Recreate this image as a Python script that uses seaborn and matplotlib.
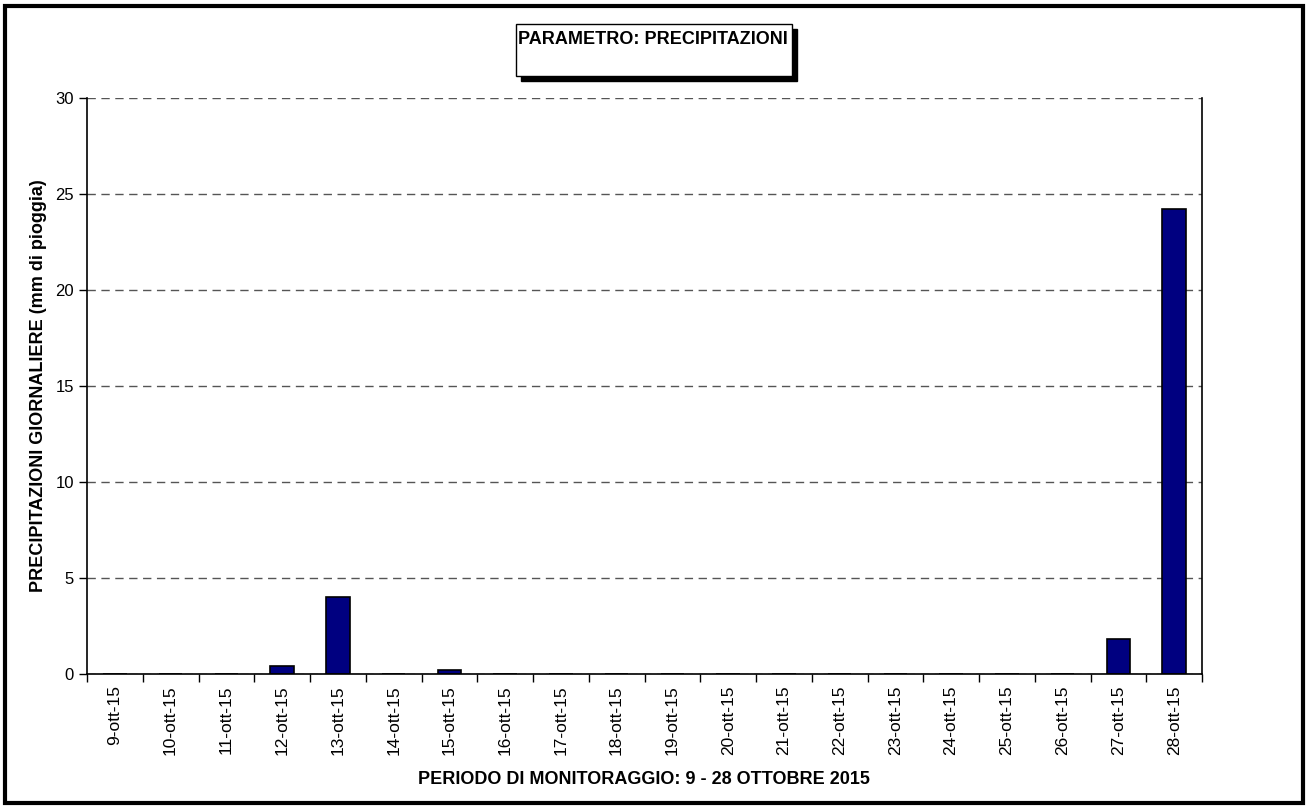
import matplotlib
matplotlib.use("Agg")
import matplotlib.pyplot as plt
import matplotlib.patches as patches
import seaborn as sns
import pandas as pd

giorni = ['9-ott-15', '10-ott-15', '11-ott-15', '12-ott-15', '13-ott-15', '14-ott-15',
          '15-ott-15', '16-ott-15', '17-ott-15', '18-ott-15', '19-ott-15', '20-ott-15',
          '21-ott-15', '22-ott-15', '23-ott-15', '24-ott-15', '25-ott-15', '26-ott-15',
          '27-ott-15', '28-ott-15']
pioggia = [0, 0, 0, 0.4, 4.0, 0, 0.2, 0, 0, 0, 0, 0, 0, 0, 0, 0, 0, 0, 1.8, 24.2]

sns.set_theme(style='white', rc={'text.color': 'black', 'xtick.color': 'black',
                                 'ytick.color': 'black', 'axes.labelcolor': 'black'})
plt.rcParams['font.family'] = ['Liberation Sans', 'DejaVu Sans']

df = pd.DataFrame({'giorno': giorni, 'mm': pioggia})

fig = plt.figure(figsize=(13.08, 8.08), dpi=100)
ax = fig.add_axes([87/1308, 1 - 674/808, (1202-87)/1308, (674-98)/808])

sns.barplot(data=df, x='giorno', y='mm', order=giorni, color='#000080',
            edgecolor='black', linewidth=1.2, width=0.42, saturation=1, ax=ax)

ax.set_ylim(0, 30)
ax.set_xlim(-0.5, len(giorni) - 0.5)
ax.set_yticks([0, 5, 10, 15, 20, 25, 30])
ax.yaxis.grid(True, linestyle=(0, (6, 4)), color='#555555', linewidth=1)
ax.set_axisbelow(True)

# tick marks between categories, labels centred on the bars
ax.set_xticks([i - 0.5 for i in range(len(giorni) + 1)], minor=False)
ax.set_xticklabels([])
ax.set_xticks(range(len(giorni)), minor=True)
ax.set_xticklabels(giorni, minor=True, rotation=90)
ax.tick_params(axis='x', which='major', direction='out', length=6, width=1, color='black', bottom=True)
ax.tick_params(axis='x', which='minor', length=0, pad=8, labelsize=12.5)
ax.tick_params(axis='y', direction='out', length=6, width=1, color='black', left=True, labelsize=12)

for s in ['left', 'bottom', 'right']:
    ax.spines[s].set_visible(True)
    ax.spines[s].set_color('black')
    ax.spines[s].set_linewidth(1.2)
ax.spines['top'].set_visible(False)

ax.set_xlabel('')
ax.set_ylabel('PRECIPITAZIONI GIORNALIERE (mm di pioggia)', fontsize=13, fontweight='bold', labelpad=6)
fig.text(644/1308, 1 - 780/808, 'PERIODO DI MONITORAGGIO: 9 - 28 OTTOBRE 2015',
         ha='center', va='center', fontsize=13, fontweight='bold')

# title box with shadow
bx0, by0, bw, bh = 516/1308, 1 - 76/808, (792-516)/1308, (76-24)/808
fig.patches.append(patches.Rectangle((bx0 + 5/1308, by0 - 5/808), bw, bh, transform=fig.transFigure,
                                     facecolor='black', edgecolor='black', zorder=1))
fig.patches.append(patches.Rectangle((bx0, by0), bw, bh, transform=fig.transFigure,
                                     facecolor='white', edgecolor='black', linewidth=1, zorder=2))
fig.text(bx0 + 2/1308, 1 - 39/808, 'PARAMETRO: PRECIPITAZIONI', ha='left', va='center',
         fontsize=13, fontweight='bold', zorder=3)

# outer frame
fig.patches.append(patches.Rectangle((5/1308, 5/808), 1298/1308, 797/808, transform=fig.transFigure,
                                     facecolor='none', edgecolor='black', linewidth=3, zorder=5))

fig.savefig('out.png', dpi=100)
